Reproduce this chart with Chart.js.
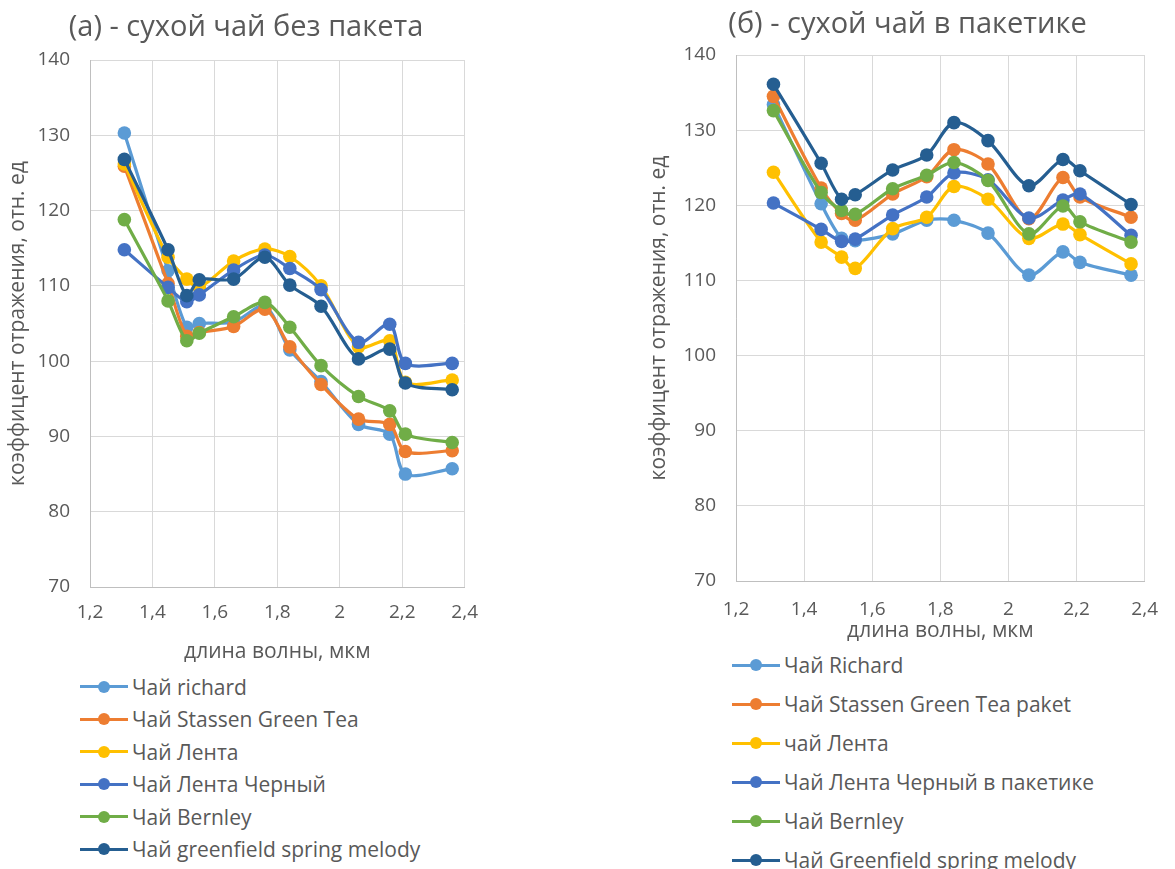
<!DOCTYPE html>
<html lang="ru">
<head>
<meta charset="UTF-8">
<title>Коэффициент отражения сухого чая</title>
<script src="https://cdn.jsdelivr.net/npm/chart.js"></script>
<style>
  body {
    margin: 0;
    width: 1175px;
    height: 869px;
    background: #ffffff;
    overflow: hidden;
    position: relative;
    font-family: 'Open Sans', sans-serif;
  }
  canvas { position: absolute; }
  #chartA { left: 0; top: 0; }
  #chartB { left: 640px; top: 0; }
  .legend { position: absolute; color: #595959; font-size: 21px; }
  .legend .item { position: absolute; left: 0; height: 26px; white-space: nowrap; }
  .legend .mark { position: absolute; left: 0; top: 11.5px; width: 48px; height: 3px; }
  .legend .mark i { position: absolute; left: 18px; top: -4.5px; width: 12px; height: 12px; border-radius: 50%; }
  .legend .txt { position: absolute; left: 52px; top: 0; line-height: 26px; }
</style>
</head>
<body>

<canvas id="chartA" width="492" height="670"></canvas>
<canvas id="chartB" width="535" height="650"></canvas>
<div class="legend" id="legendA" style="left:80px; top:0;"></div>
<div class="legend" id="legendB" style="left:732px; top:0;"></div>

<script>
// длина волны, мкм
const wavelengths = [1.31, 1.45, 1.51, 1.55, 1.66, 1.76, 1.84, 1.94, 2.06, 2.16, 2.21, 2.36];

// (а) - сухой чай без пакета
const namesA = ['Чай richard', 'Чай Stassen Green Tea', 'Чай Лента', 'Чай Лента Черный', 'Чай Bernley', 'Чай greenfield spring melody'];
const richardA    = [130.3, 112.0, 104.5, 105.0, 105.2, 107.3, 101.5, 97.3, 91.6, 90.3, 85.0, 85.7];
const stassenA    = [125.9, 110.3, 103.3, 103.8, 104.6, 106.9, 101.9, 96.9, 92.3, 91.6, 88.0, 88.1];
const lentaA      = [126.2, 113.8, 110.9, 109.8, 113.3, 114.9, 113.9, 110.0, 101.9, 102.7, 97.2, 97.5];
const lentaBlackA = [114.8, 109.8, 107.9, 108.8, 112.1, 114.1, 112.3, 109.5, 102.5, 104.9, 99.7, 99.7];
const bernleyA    = [118.8, 108.0, 102.7, 103.7, 105.9, 107.8, 104.5, 99.4, 95.3, 93.4, 90.3, 89.2];
const greenfieldA = [126.8, 114.8, 108.7, 110.8, 110.9, 113.8, 110.1, 107.3, 100.3, 101.6, 97.1, 96.2];

// (б) - сухой чай в пакетике
const namesB = ['Чай Richard', 'Чай Stassen Green Tea paket', 'чай Лента', 'Чай Лента Черный в пакетике', 'Чай Bernley', 'Чай Greenfield spring melody'];
const richardB    = [133.4, 120.2, 115.6, 115.3, 116.2, 118.0, 118.0, 116.3, 110.7, 113.8, 112.4, 110.7];
const stassenB    = [134.5, 122.3, 118.9, 118.0, 121.5, 123.8, 127.4, 125.5, 118.2, 123.7, 121.1, 118.4];
const lentaB      = [124.4, 115.1, 113.1, 111.6, 116.9, 118.4, 122.5, 120.8, 115.6, 117.5, 116.1, 112.2];
const lentaBlackB = [120.3, 116.8, 115.2, 115.5, 118.7, 121.1, 124.3, 123.4, 118.3, 120.7, 121.5, 116.0];
const bernleyB    = [132.6, 121.7, 119.3, 118.8, 122.2, 124.0, 125.7, 123.3, 116.2, 119.9, 117.8, 115.1];
const greenfieldB = [136.1, 125.6, 120.8, 121.4, 124.7, 126.7, 131.0, 128.6, 122.6, 126.1, 124.6, 120.1];

const colors = ['#5B9BD5', '#ED7D31', '#FFC000', '#4472C4', '#70AD47', '#255E91'];
const FONT = "'Open Sans', sans-serif";
const TEXT = '#595959';

function points(values) {
    return values.map(function(v, i) { return { x: wavelengths[i], y: v }; });
}

function buildChart(id, c) {
    var datasets = c.series.map(function(vals, i) {
        return {
            label: c.names[i],
            data: points(vals),
            borderColor: colors[i],
            backgroundColor: colors[i],
            borderWidth: 3.2,
            pointRadius: 6.8,
            pointBorderWidth: 0,
            pointHoverRadius: 6.8,
            tension: 0.3,
            order: c.series.length - i   // later series drawn on top, like Excel
        };
    });

    return new Chart(document.getElementById(id), {
        type: 'line',
        data: { datasets: datasets },
        options: {
            responsive: false,
            animation: false,
            layout: { padding: { left: c.padSide, right: c.padSide, top: 0, bottom: 0 } },
            plugins: {
                legend: { display: false },
                tooltip: { enabled: false },
                title: {
                    display: true,
                    text: c.title,
                    color: TEXT,
                    font: { family: FONT, size: 29, weight: 'normal' },
                    padding: { top: c.titleTop, bottom: c.titleBottom }
                }
            },
            scales: {
                x: {
                    type: 'linear',
                    min: 1.2,
                    max: 2.4,
                    ticks: {
                        stepSize: 0.2,
                        color: TEXT,
                        font: { family: FONT, size: 19 },
                        padding: c.xTickPad,
                        callback: function(v) { return String(Math.round(v * 10) / 10).replace('.', ','); }
                    },
                    grid: { color: '#D9D9D9', drawTicks: false },
                    border: { color: '#BFBFBF' },
                    title: {
                        display: true,
                        text: 'длина волны, мкм',
                        color: TEXT,
                        font: { family: FONT, size: 21 },
                        padding: { top: 0, bottom: c.xTitlePad }
                    },
                    afterFit: function(s) { s.height = c.xHeight; }
                },
                y: {
                    min: 70,
                    max: 140,
                    ticks: {
                        stepSize: 10,
                        color: TEXT,
                        font: { family: FONT, size: 19 },
                        padding: 20
                    },
                    grid: { color: '#D9D9D9', drawTicks: false },
                    border: { color: '#BFBFBF' },
                    title: {
                        display: true,
                        text: 'коэффицент отражения, отн. ед',
                        color: TEXT,
                        font: { family: FONT, size: 21, lineHeight: c.yTitleLh },
                        padding: { top: 0, bottom: 0 }
                    },
                    afterFit: function(s) { s.width = c.yWidth; }
                }
            }
        }
    });
}

function buildLegend(id, names, firstRow, rowStep) {
    var el = document.getElementById(id);
    names.forEach(function(n, i) {
        var item = document.createElement('div');
        item.className = 'item';
        item.style.top = (firstRow + i * rowStep - 13) + 'px';
        item.innerHTML = '<span class="mark" style="background:' + colors[i] + '"><i style="background:' + colors[i] + '"></i></span>' +
                         '<span class="txt"></span>';
        item.querySelector('.txt').textContent = n;
        el.appendChild(item);
    });
}

buildChart('chartA', {
    title: '(а) - сухой чай без пакета',
    names: namesA,
    series: [richardA, stassenA, lentaA, lentaBlackA, bernleyA, greenfieldA],
    padSide: 12, yWidth: 78, yTitleLh: 0.6,
    titleTop: 10.6, titleBottom: 14.6,
    xHeight: 83, xTickPad: 14, xTitlePad: 5.4
});

buildChart('chartB', {
    title: '(б) - сухой чай в пакетике',
    names: namesB,
    series: [richardB, stassenB, lentaB, lentaBlackB, bernleyB, greenfieldB],
    padSide: 16, yWidth: 80, yTitleLh: 0.3,
    titleTop: 7.6, titleBottom: 12.6,
    xHeight: 69, xTickPad: 17, xTitlePad: 6.4
});

buildLegend('legendA', namesA, 686.7, 32.5);
buildLegend('legendB', namesB, 665, 39);
</script>
</body>
</html>
